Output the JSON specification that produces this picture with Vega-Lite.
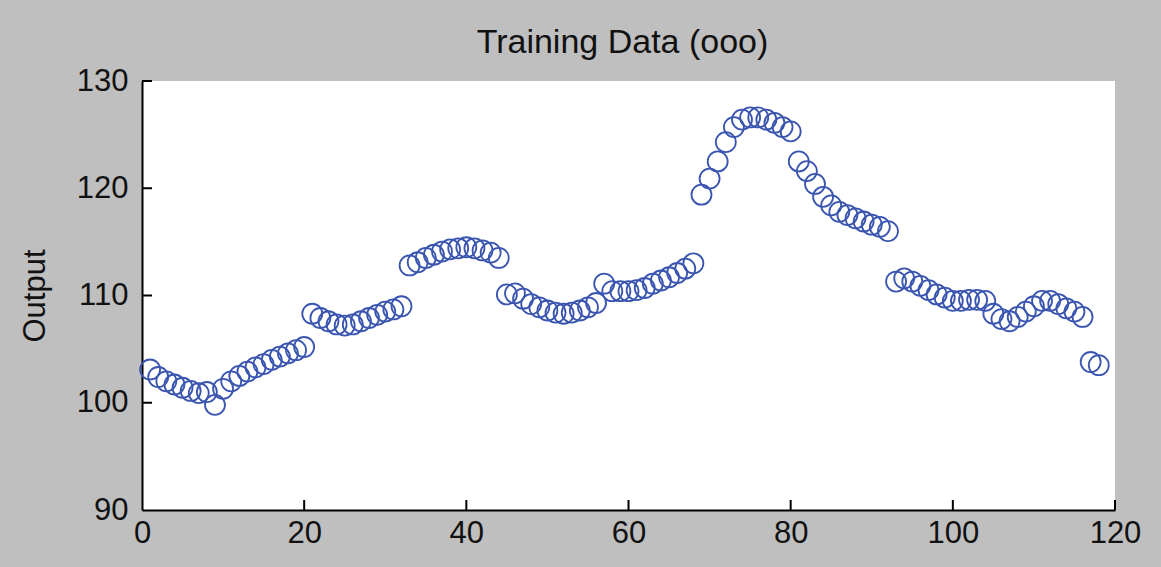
{
  "$schema": "https://vega.github.io/schema/vega-lite/v6.json",
  "autosize": "none",
  "width": 973,
  "height": 429,
  "padding": {"left": 142, "top": 81, "right": 46, "bottom": 57},
  "background": "#bfbfbf",
  "title": {
    "text": "Training Data (ooo)",
    "font": "Liberation Sans",
    "fontSize": 34,
    "fontWeight": "normal",
    "color": "#111111",
    "anchor": "middle",
    "dx": -6,
    "offset": 5
  },
  "config": {
    "view": {"fill": "white", "stroke": null},
    "axis": {
      "grid": false,
      "ticks": false,
      "domainColor": "black",
      "domainWidth": 2,
      "labelFont": "Liberation Sans",
      "labelFontSize": 31,
      "labelColor": "#111111",
      "titleFont": "Liberation Sans",
      "titleFontSize": 31,
      "titleFontWeight": "normal",
      "titleColor": "#111111"
    }
  },
  "datasets": {
    "series": [
      {"x": 1, "y": 103.1}, {"x": 2, "y": 102.4}, {"x": 3, "y": 102.0}, {"x": 4, "y": 101.7},
      {"x": 5, "y": 101.4}, {"x": 6, "y": 101.1}, {"x": 7, "y": 100.9}, {"x": 8, "y": 101.0},
      {"x": 9, "y": 99.8}, {"x": 10, "y": 101.3}, {"x": 11, "y": 102.0}, {"x": 12, "y": 102.5},
      {"x": 13, "y": 102.9}, {"x": 14, "y": 103.3}, {"x": 15, "y": 103.6}, {"x": 16, "y": 104.0},
      {"x": 17, "y": 104.3}, {"x": 18, "y": 104.6}, {"x": 19, "y": 104.9}, {"x": 20, "y": 105.2},
      {"x": 21, "y": 108.3}, {"x": 22, "y": 107.9}, {"x": 23, "y": 107.6}, {"x": 24, "y": 107.3},
      {"x": 25, "y": 107.2}, {"x": 26, "y": 107.3}, {"x": 27, "y": 107.6}, {"x": 28, "y": 107.9},
      {"x": 29, "y": 108.2}, {"x": 30, "y": 108.5}, {"x": 31, "y": 108.7}, {"x": 32, "y": 109.0},
      {"x": 33, "y": 112.8}, {"x": 34, "y": 113.1}, {"x": 35, "y": 113.5}, {"x": 36, "y": 113.8},
      {"x": 37, "y": 114.1}, {"x": 38, "y": 114.3}, {"x": 39, "y": 114.4}, {"x": 40, "y": 114.5},
      {"x": 41, "y": 114.4}, {"x": 42, "y": 114.2}, {"x": 43, "y": 114.0}, {"x": 44, "y": 113.5},
      {"x": 45, "y": 110.1}, {"x": 46, "y": 110.2}, {"x": 47, "y": 109.7}, {"x": 48, "y": 109.2},
      {"x": 49, "y": 108.9}, {"x": 50, "y": 108.6}, {"x": 51, "y": 108.4}, {"x": 52, "y": 108.3},
      {"x": 53, "y": 108.4}, {"x": 54, "y": 108.6}, {"x": 55, "y": 108.9}, {"x": 56, "y": 109.3},
      {"x": 57, "y": 111.1}, {"x": 58, "y": 110.4}, {"x": 59, "y": 110.4}, {"x": 60, "y": 110.4},
      {"x": 61, "y": 110.5}, {"x": 62, "y": 110.7}, {"x": 63, "y": 111.1}, {"x": 64, "y": 111.4},
      {"x": 65, "y": 111.7}, {"x": 66, "y": 112.1}, {"x": 67, "y": 112.5}, {"x": 68, "y": 113.0},
      {"x": 69, "y": 119.4}, {"x": 70, "y": 120.9}, {"x": 71, "y": 122.5}, {"x": 72, "y": 124.3},
      {"x": 73, "y": 125.7}, {"x": 74, "y": 126.4}, {"x": 75, "y": 126.6}, {"x": 76, "y": 126.6},
      {"x": 77, "y": 126.4}, {"x": 78, "y": 126.1}, {"x": 79, "y": 125.7}, {"x": 80, "y": 125.3},
      {"x": 81, "y": 122.5}, {"x": 82, "y": 121.6}, {"x": 83, "y": 120.4}, {"x": 84, "y": 119.2},
      {"x": 85, "y": 118.4}, {"x": 86, "y": 117.8}, {"x": 87, "y": 117.5}, {"x": 88, "y": 117.2},
      {"x": 89, "y": 116.9}, {"x": 90, "y": 116.6}, {"x": 91, "y": 116.4}, {"x": 92, "y": 116.0},
      {"x": 93, "y": 111.3}, {"x": 94, "y": 111.6}, {"x": 95, "y": 111.3}, {"x": 96, "y": 110.9},
      {"x": 97, "y": 110.5}, {"x": 98, "y": 110.1}, {"x": 99, "y": 109.8}, {"x": 100, "y": 109.5},
      {"x": 101, "y": 109.5}, {"x": 102, "y": 109.6}, {"x": 103, "y": 109.6}, {"x": 104, "y": 109.5},
      {"x": 105, "y": 108.3}, {"x": 106, "y": 107.8}, {"x": 107, "y": 107.6}, {"x": 108, "y": 108.0},
      {"x": 109, "y": 108.5}, {"x": 110, "y": 109.0}, {"x": 111, "y": 109.5}, {"x": 112, "y": 109.5},
      {"x": 113, "y": 109.2}, {"x": 114, "y": 108.8}, {"x": 115, "y": 108.5}, {"x": 116, "y": 108.0},
      {"x": 117, "y": 103.8}, {"x": 118, "y": 103.5}
    ],
    "xticks": [{"t": 20}, {"t": 40}, {"t": 60}, {"t": 80}, {"t": 100}, {"t": 120}],
    "yticks": [{"t": 100}, {"t": 110}, {"t": 120}, {"t": 130}]
  },
  "layer": [
    {
      "data": {"name": "series"},
      "mark": {"type": "point", "shape": "circle", "filled": false, "size": 400, "strokeWidth": 1.8, "color": "#3a55b0", "opacity": 1},
      "encoding": {
        "x": {
          "field": "x",
          "type": "quantitative",
          "scale": {"domain": [0, 120], "nice": false},
          "axis": {"title": null, "values": [0, 20, 40, 60, 80, 100, 120], "labelPadding": 8, "labelFlush": false}
        },
        "y": {
          "field": "y",
          "type": "quantitative",
          "scale": {"domain": [90, 130], "nice": false, "zero": false},
          "axis": {"title": "Output", "values": [90, 100, 110, 120, 130], "labelPadding": 14, "titlePadding": 25, "labelFlush": false}
        }
      }
    },
    {
      "data": {"name": "xticks"},
      "mark": {"type": "rule", "color": "black", "strokeWidth": 2},
      "encoding": {
        "x": {"field": "t", "type": "quantitative"},
        "y": {"datum": 90},
        "y2": {"datum": 90.93}
      }
    },
    {
      "data": {"name": "yticks"},
      "mark": {"type": "rule", "color": "black", "strokeWidth": 2},
      "encoding": {
        "y": {"field": "t", "type": "quantitative"},
        "x": {"datum": 0},
        "x2": {"datum": 1.23}
      }
    }
  ]
}
